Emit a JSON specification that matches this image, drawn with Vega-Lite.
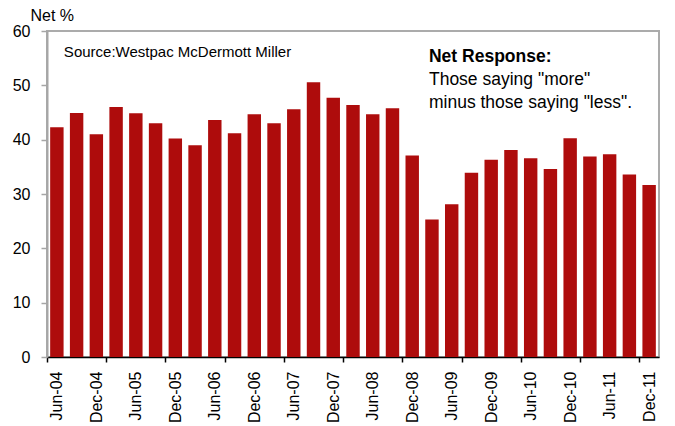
{
  "$schema": "https://vega.github.io/schema/vega-lite/v6.json",
  "width": 612,
  "height": 326,
  "padding": {"left": 12, "top": 7, "right": 14, "bottom": 5},
  "background": "white",
  "config": {"font": "Liberation Sans", "view": {"stroke": "#ababab", "strokeWidth": 2}},
  "layer": [
    {
      "data": {"values": [
        {"quarter": "Jun-04", "net": 42.3},
        {"quarter": "Sep-04", "net": 44.9},
        {"quarter": "Dec-04", "net": 41.0},
        {"quarter": "Mar-05", "net": 46.0},
        {"quarter": "Jun-05", "net": 44.85},
        {"quarter": "Sep-05", "net": 43.0},
        {"quarter": "Dec-05", "net": 40.2},
        {"quarter": "Mar-06", "net": 38.95},
        {"quarter": "Jun-06", "net": 43.6},
        {"quarter": "Sep-06", "net": 41.2},
        {"quarter": "Dec-06", "net": 44.7},
        {"quarter": "Mar-07", "net": 43.0},
        {"quarter": "Jun-07", "net": 45.6},
        {"quarter": "Sep-07", "net": 50.55},
        {"quarter": "Dec-07", "net": 47.7},
        {"quarter": "Mar-08", "net": 46.4},
        {"quarter": "Jun-08", "net": 44.7},
        {"quarter": "Sep-08", "net": 45.8},
        {"quarter": "Dec-08", "net": 37.1},
        {"quarter": "Mar-09", "net": 25.3},
        {"quarter": "Jun-09", "net": 28.1},
        {"quarter": "Sep-09", "net": 33.9},
        {"quarter": "Dec-09", "net": 36.3},
        {"quarter": "Mar-10", "net": 38.1},
        {"quarter": "Jun-10", "net": 36.6},
        {"quarter": "Sep-10", "net": 34.6},
        {"quarter": "Dec-10", "net": 40.25},
        {"quarter": "Mar-11", "net": 36.9},
        {"quarter": "Jun-11", "net": 37.3},
        {"quarter": "Sep-11", "net": 33.6},
        {"quarter": "Dec-11", "net": 31.65}
      ]},
      "mark": {"type": "bar", "color": "#AE0C0C"},
      "encoding": {
        "x": {
          "field": "quarter",
          "type": "ordinal",
          "sort": null,
          "scale": {"paddingInner": 0.32, "paddingOuter": 0.16},
          "axis": {
            "title": null,
            "domainColor": "black",
            "domainWidth": 1.5,
            "tickColor": "black",
            "tickSize": 5,
            "tickWidth": 1.5,
            "tickOffset": -9.87,
            "tickOpacity": {"condition": {"test": "indexof(['Jun-04','Mar-05','Dec-05','Sep-06','Jun-07','Mar-08','Dec-08','Sep-09','Jun-10','Mar-11','Dec-11'], datum.value) >= 0", "value": 1}, "value": 0},
            "labelOffset": 9.87,
            "labelAngle": -90,
            "labelAlign": "right",
            "labelBaseline": "middle",
            "labelFontSize": 16,
            "labelColor": "black",
            "labelPadding": 9,
            "labelOverlap": false,
            "labelExpr": "indexof(['Jun','Dec'], slice(datum.value, 0, 3)) >= 0 ? datum.value : ''"
          }
        },
        "y": {
          "field": "net",
          "type": "quantitative",
          "scale": {"domain": [0, 60], "nice": false},
          "axis": {
            "values": [0, 10, 20, 30, 40, 50, 60],
            "grid": false,
            "title": "Net %",
            "titleAngle": 0,
            "titleAlign": "left",
            "titleBaseline": "alphabetic",
            "titleX": -17,
            "titleY": -11,
            "titleFontSize": 16,
            "titleFontWeight": "normal",
            "titleColor": "black",
            "labelFontSize": 16,
            "labelColor": "black",
            "labelPadding": 11,
            "tickSize": 6,
            "tickColor": "#a6a6a6",
            "tickWidth": 1.5,
            "domainColor": "#a6a6a6",
            "domainWidth": 2
          }
        }
      }
    },
    {
      "data": {"values": [{}]},
      "mark": {"type": "text", "align": "left", "baseline": "alphabetic", "fontSize": 15, "dx": 7, "color": "black"},
      "encoding": {
        "x": {"datum": "Jun-04", "type": "ordinal"},
        "y": {"datum": 55.2, "type": "quantitative"},
        "text": {"value": "Source:Westpac McDermott Miller"}
      }
    },
    {
      "data": {"values": [{}]},
      "mark": {"type": "text", "align": "left", "baseline": "alphabetic", "fontSize": 17.5, "fontWeight": "bold", "dx": -3, "color": "black"},
      "encoding": {
        "x": {"datum": "Mar-09", "type": "ordinal"},
        "y": {"datum": 54.3, "type": "quantitative"},
        "text": {"value": "Net Response:"}
      }
    },
    {
      "data": {"values": [{}]},
      "mark": {"type": "text", "align": "left", "baseline": "alphabetic", "fontSize": 17.5, "lineHeight": 22.5, "dx": -3, "color": "black"},
      "encoding": {
        "x": {"datum": "Mar-09", "type": "ordinal"},
        "y": {"datum": 50.05, "type": "quantitative"},
        "text": {"value": ["Those saying \"more\"", "minus those saying \"less\"."]}
      }
    }
  ]
}
